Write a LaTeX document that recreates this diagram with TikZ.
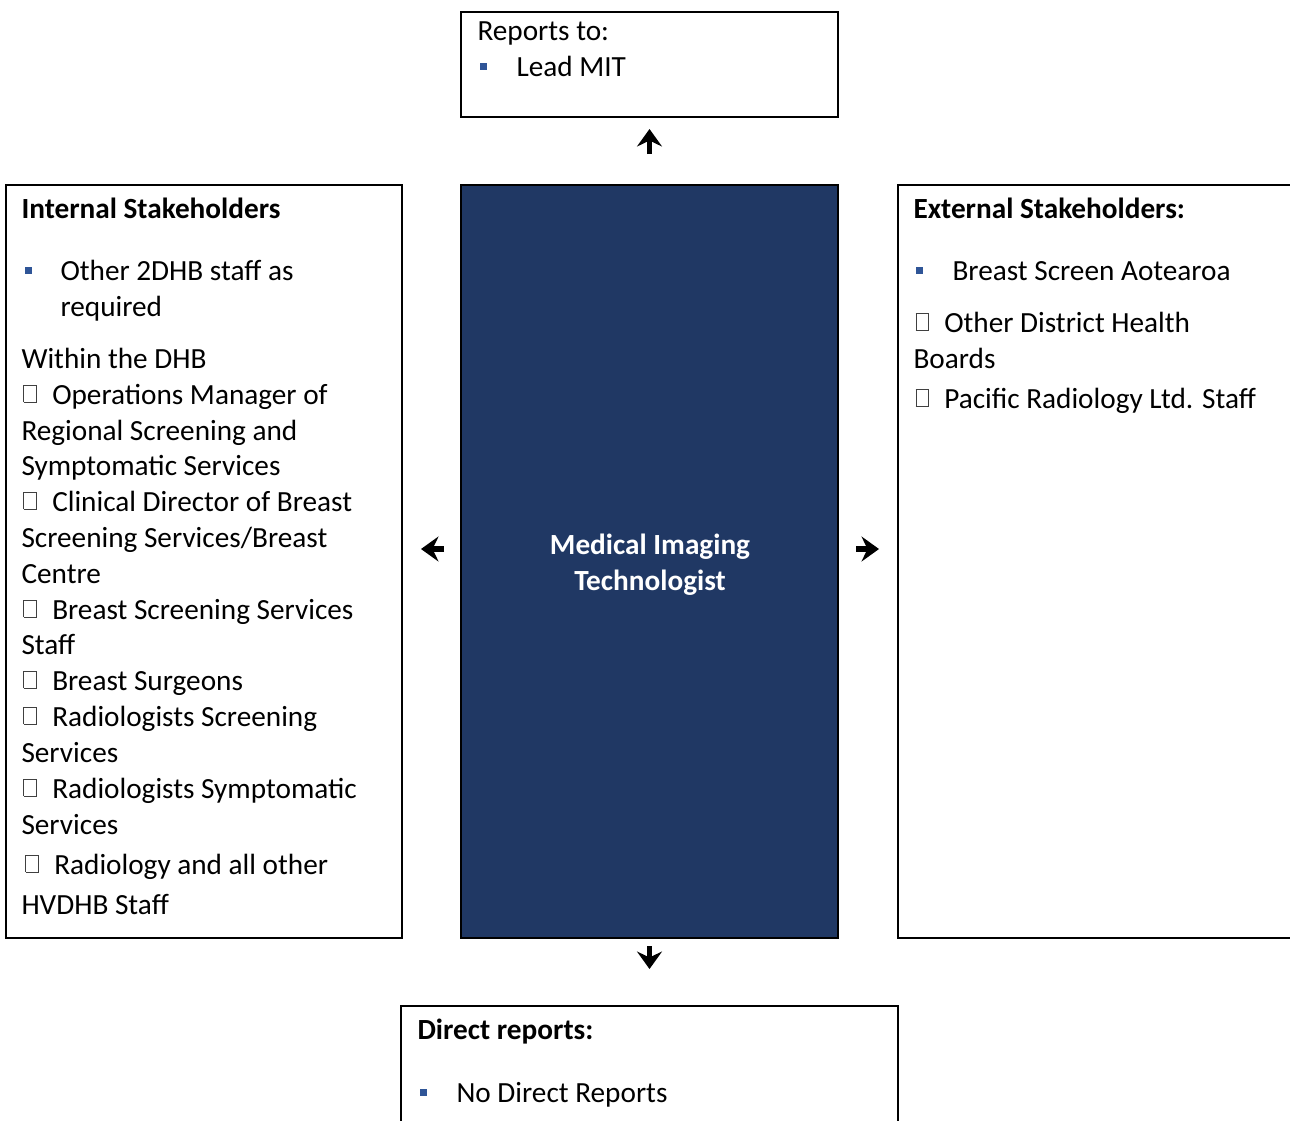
\documentclass[tikz,border=0pt]{standalone}
\usepackage{fontspec}
\setmainfont{Carlito}
\usetikzlibrary{positioning,fit,arrows.meta}
\definecolor{mitblue}{HTML}{203864}
\definecolor{bulblue}{HTML}{2F5597}
\newcommand{\ebox}{\hspace{0.8pt}{\setlength{\fboxsep}{0pt}\setlength{\fboxrule}{0.35pt}\color{black!75}\raisebox{1pt}{\fbox{\rule{0pt}{6.4pt}\hspace{4.8pt}}}}\hspace{6pt}}

\begin{document}
\begin{tikzpicture}[x=0.4pt,y=-0.4pt,
    box/.style={draw,line width=0.8pt,inner sep=0pt},
    mitbox/.style={draw,fill=mitblue,line width=0.8pt,inner sep=0pt},
    txt/.style={anchor=base west,inner sep=0pt,font=\fontsize{11.7}{14}\selectfont},
    hd/.style={txt,font=\fontsize{11.7}{14}\selectfont\bfseries},
    bul/.style={fill=bulblue,inner sep=0pt,minimum size=2.8pt},
    conn/.style={-{Stealth[length=7pt,width=10pt,inset=2.4pt]},line width=2.2pt}]
  \useasboundingbox (0,0) rectangle (1290,1120);
  % boxes
  \node[box,fit={(461,12) (838,117)}] (rep) {};
  \node[mitbox,fit={(461,185) (838,938)}] (mit) {};
  \node[box,fit={(6,185) (402,938)}] (int) {};
  \node[box,fit={(898,185) (1300,938)}] (ext) {};
  \node[box,fit={(401,1006) (898,1135)}] (dir) {};
  % arrows
  \coordinate (lvl) at (0,549);
  \draw[conn,shorten <=12pt,shorten >=4.4pt] (mit.north) -- (rep.south);
  \draw[conn,shorten <=6.4pt,shorten >=7.2pt] (mit.west |- lvl) -- (int.east |- lvl);
  \draw[conn,shorten <=6.8pt,shorten >=7.2pt] (mit.east |- lvl) -- (ext.west |- lvl);
  \draw[conn,shorten <=2.8pt,shorten >=14.4pt] (mit.south) -- (dir.north);
  % reports to
  \node[txt] (reph) at (477,40) {Reports to:};
  \node[bul] (repb) at (483,66) {};
  \node[txt] (rept) at (516,76) {Lead MIT};
  % centre
  \node[txt,anchor=base,text=white,font=\fontsize{11.7}{14}\selectfont\bfseries] (mitl1) at (650,554) {Medical Imaging};
  \node[txt,anchor=base,text=white,font=\fontsize{11.7}{14}\selectfont\bfseries] (mitl2) at (650,590) {Technologist};
  % internal
  \node[hd] (inth) at (21,218) {Internal Stakeholders};
  \node[bul] (intb) at (28,270) {};
  \foreach \y/\t [count=\i] in {280/{Other 2DHB staff as},316/{required}}
    \node[txt] (inta\i) at (60,\y) {\t};
  \foreach \y/\t [count=\i] in {368/{Within the DHB},404/{\ebox Operations Manager of},
      440/{Regional Screening and},475/{Symptomatic Services},
      511/{\ebox Clinical Director of Breast},547/{Screening Services/Breast},583/{Centre},
      619/{\ebox Breast Screening Services},654/{Staff},690/{\ebox Breast Surgeons},
      726/{\ebox Radiologists Screening},762/{Services},
      798/{\ebox Radiologists Symptomatic},834/{Services},914/{HVDHB Staff}}
    \node[txt] (intl\i) at (21,\y) {\t};
  \node[txt] (intl16) at (23,874) {\ebox Radiology and all other};
  % external
  \node[hd] (exth) at (913,218) {External Stakeholders:};
  \node[bul] (extb) at (919,270) {};
  \node[txt] (exta) at (952,280) {Breast Screen Aotearoa};
  \foreach \y/\t [count=\i] in {332/{\ebox Other District Health},368/{Boards},
      408/{\ebox Pacific Radiology Ltd. Staff}}
    \node[txt] (extl\i) at (913,\y) {\t};
  % direct reports
  \node[hd] (dirh) at (417,1039) {Direct reports:};
  \node[bul] (dirb) at (423,1092) {};
  \node[txt] (dirt) at (456,1102) {No Direct Reports};
\end{tikzpicture}
\end{document}
